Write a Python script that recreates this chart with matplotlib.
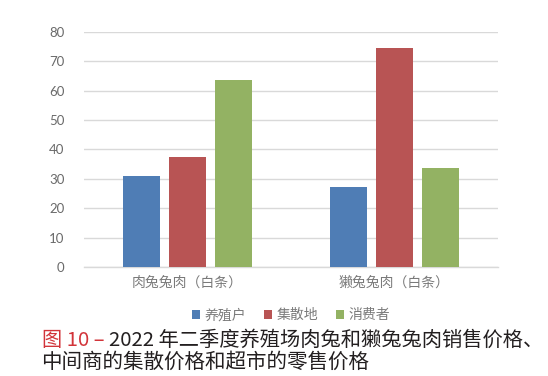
import numpy as np
import matplotlib
matplotlib.use("Agg")
import matplotlib.pyplot as plt

plt.rcParams['font.family'] = ['Noto Sans CJK SC', 'DejaVu Sans']

categories = ["肉兔兔肉（白条）", "獭兔兔肉（白条）"]
series_names = ["养殖户", "集散地", "消费者"]
farm = [31.1, 27.4]
market = [37.3, 74.5]
consumer = [63.7, 33.7]
y_ticks = [0, 10, 20, 30, 40, 50, 60, 70, 80]

colors = ["#4f7db5", "#b85454", "#93b263"]

fig = plt.figure(figsize=(5.48, 3.76), dpi=100)
ax = fig.add_axes([0.1533, 0.2886, 0.7555, 0.6276])

x = np.arange(len(categories))
width = 0.175
step = 0.222
for i, (vals, name) in enumerate(zip([farm, market, consumer], series_names)):
    ax.bar(x + (i - 1) * step, vals, width, color=colors[i], label=name, zorder=3)

ax.set_xlim(-0.5, 1.5)
ax.set_ylim(0, 80)
ax.set_yticks(y_ticks)
ax.set_xticks(x)
ax.set_xticklabels(categories, fontsize=10, color="#7a7a7a")
ax.tick_params(axis='y', length=0, pad=14, labelsize=9.5, labelcolor="#6a6a6a")
ax.tick_params(axis='x', length=0, pad=6)
for lbl in ax.get_yticklabels():
    lbl.set_family(['Lato', 'DejaVu Sans'])
ax.grid(axis='y', color="#d9d9d9", linewidth=1, zorder=0)
for side in ["top", "right", "left"]:
    ax.spines[side].set_visible(False)
ax.spines["bottom"].set_color("#d9d9d9")
ax.spines["bottom"].set_linewidth(1)

leg = ax.legend(loc="upper center", bbox_to_anchor=(0.5, -0.15), ncol=3,
                frameon=False, fontsize=10, handlelength=0.6, handleheight=0.6,
                handletextpad=0.3, columnspacing=1.3, borderaxespad=0)
for t in leg.get_texts():
    t.set_color("#7a7a7a")

# caption below the chart
t1 = fig.text(0.0766, 0.080, "图 10 –", fontsize=14.6, color="#d2343a", va="baseline")
ax.annotate("2022 年二季度养殖场肉兔和獭兔兔肉销售价格、", xy=(1, 0), xycoords=t1,
            xytext=(3, 0), textcoords="offset points",
            fontsize=14.6, color="#231f20", va="bottom", annotation_clip=False)
fig.text(0.0748, 0.022, "中间商的集散价格和超市的零售价格", fontsize=14.8,
         color="#231f20", va="baseline")

fig.savefig("out.png", dpi=100)
